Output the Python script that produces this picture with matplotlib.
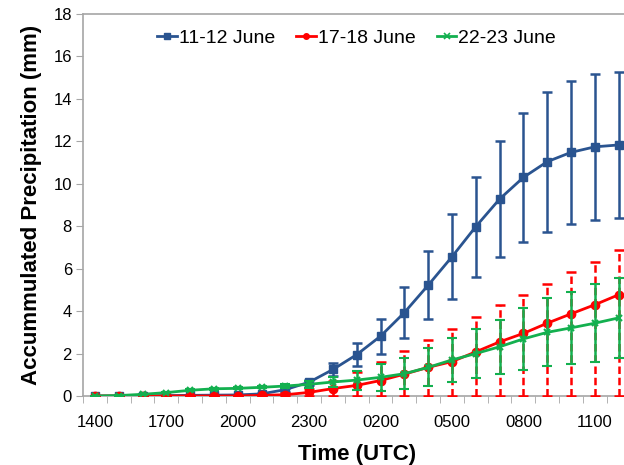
import numpy as np
import matplotlib.pyplot as plt
from matplotlib.ticker import FixedLocator
from matplotlib.lines import Line2D

plt.rcParams['font.family'] = ['Liberation Sans', 'DejaVu Sans']

# hourly times (UTC), 1400 on day one to 1200 on day two
hours = ['1400', '1500', '1600', '1700', '1800', '1900', '2000', '2100', '2200', '2300',
         '0000', '0100', '0200', '0300', '0400', '0500', '0600', '0700', '0800', '0900',
         '1000', '1100', '1200']

# 11-12 June
june11 = [0, 0, 0, 0.02, 0.03, 0.04, 0.05, 0.1, 0.3, 0.65, 1.25, 1.95, 2.82, 3.93,
          5.22, 6.56, 7.98, 9.28, 10.3, 11.04, 11.48, 11.74, 11.83]
june11_err = [0, 0, 0, 0, 0, 0, 0, 0.05, 0.1, 0.12, 0.32, 0.53, 0.82, 1.2,
              1.6, 2.0, 2.36, 2.75, 3.02, 3.3, 3.38, 3.45, 3.44]

# 17-18 June
june17 = [0, 0, 0, 0, 0, 0, 0, 0.03, 0.06, 0.17, 0.35, 0.5, 0.73, 1.03,
          1.35, 1.62, 2.08, 2.55, 2.95, 3.43, 3.87, 4.3, 4.77]
june17_err_hi = [0, 0, 0, 0, 0, 0, 0, 0.03, 0.06, 0.15, 0.35, 0.65, 0.85, 1.1,
                 1.29, 1.52, 1.66, 1.75, 1.82, 1.86, 1.95, 2.02, 2.1]
june17_err_lo = [0, 0, 0, 0, 0, 0, 0, 0.03, 0.06, 0.17, 0.35, 0.5, 0.73, 1.03,
                 1.35, 1.62, 2.08, 2.55, 2.95, 3.43, 3.87, 4.3, 4.77]

# 22-23 June
june22 = [0, 0.02, 0.08, 0.16, 0.27, 0.34, 0.36, 0.41, 0.47, 0.55, 0.66, 0.75, 0.88, 1.05,
          1.35, 1.7, 2.0, 2.32, 2.69, 3.0, 3.21, 3.43, 3.68]
june22_err = [0, 0.02, 0.03, 0.04, 0.05, 0.05, 0.05, 0.05, 0.08, 0.15, 0.25, 0.45, 0.65, 0.72,
              0.9, 1.05, 1.15, 1.28, 1.47, 1.6, 1.7, 1.83, 1.9]

x = np.arange(len(hours))

fig = plt.figure(figsize=(6.24, 4.65), dpi=100)
ax = fig.add_axes([83 / 624, 1 - 396 / 465, 547.5 / 624, 382 / 465])

blue = '#2A5490'
red = '#FF0000'
green = '#13B04F'

ax.errorbar(x, june11, yerr=june11_err, color=blue, lw=2.0, marker='s', ms=5.5,
            elinewidth=1.8, capsize=3.5, capthick=1.8, zorder=3)

eb = ax.errorbar(x, june17, yerr=[june17_err_lo, june17_err_hi], color=red, lw=2.0,
                 marker='o', ms=6, elinewidth=1.8, capsize=3.5, capthick=1.8, zorder=4)
eb[2][0].set_linestyle((0, (3, 1.5)))

ax.errorbar(x, june22, yerr=june22_err, color=green, lw=2.0, marker='x', ms=5, mew=1.5,
            elinewidth=1.8, capsize=3.5, capthick=1.8, zorder=5)

ax.set_xlim(-0.5, 22.5)
ax.set_ylim(0, 18)
ax.set_yticks(range(0, 19, 2))

ax.set_xticks(x[::3])
ax.set_xticklabels(hours[::3])
ax.xaxis.set_minor_locator(FixedLocator(np.arange(-0.5, 23, 1)))
ax.tick_params(axis='x', which='major', length=0, pad=14, labelsize=12)
ax.tick_params(axis='x', which='minor', length=5, color='#A6A6A6', direction='out')
ax.tick_params(axis='y', length=5, color='#A6A6A6', direction='out', labelsize=12, pad=3)

for side in ['left', 'bottom', 'top']:
    ax.spines[side].set_color('#A6A6A6')
    ax.spines[side].set_linewidth(1.2)
ax.spines['right'].set_visible(False)

ax.set_xlabel('Time (UTC)', fontsize=16, fontweight='bold', labelpad=10)
ax.set_ylabel('Accummulated Precipitation (mm)', fontsize=16, fontweight='bold', labelpad=8)

handles = [
    Line2D([], [], color=blue, lw=2.0, marker='s', ms=4),
    Line2D([], [], color=red, lw=2.0, marker='o', ms=4),
    Line2D([], [], color=green, lw=2.0, marker='x', ms=4, mew=1.2),
]
ax.legend(handles, ['11-12 June', '17-18 June', '22-23 June'], loc='upper center',
          bbox_to_anchor=(0.5, 0.98), ncol=3, frameon=False, fontsize=14,
          handlelength=1.0, handletextpad=0.1, columnspacing=1.1, borderaxespad=0)

fig.savefig('out.png', dpi=100)
